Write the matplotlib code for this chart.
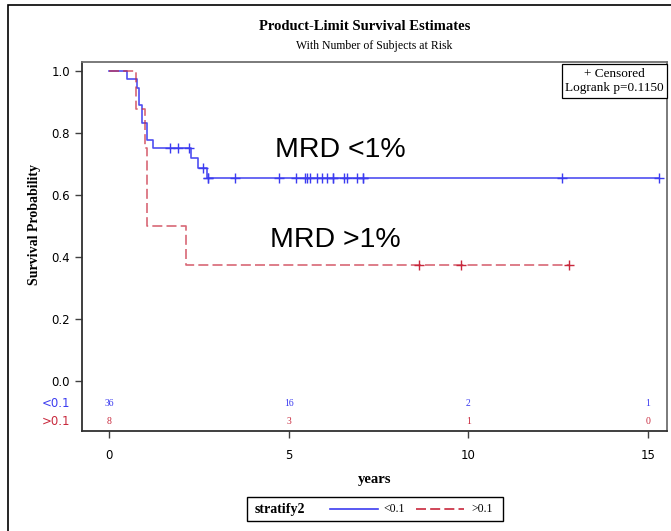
import numpy as np
import matplotlib
matplotlib.use("Agg")
import matplotlib.pyplot as plt
from matplotlib.lines import Line2D
from matplotlib.patches import Rectangle
import matplotlib.transforms as mtransforms

# Kaplan-Meier steps for each stratum (time in years, survival after the step)
lo_times = [0, 0.48, 0.76, 0.84, 0.90, 1.04, 1.23, 2.27, 2.48, 2.71]
lo_surv = [1.0, 0.972, 0.944, 0.889, 0.833, 0.778, 0.75, 0.719, 0.687, 0.655]
lo_censor = [1.69, 1.92, 2.23, 2.62, 2.76, 2.76, 3.50, 4.73, 5.19, 5.45, 5.52,
             5.59, 5.79, 5.93, 6.07, 6.22, 6.22, 6.54, 6.63, 6.89, 7.06, 7.06,
             12.60, 15.32]

hi_times = [0, 0.74, 0.99, 1.06, 2.14]
hi_surv = [1.0, 0.875, 0.75, 0.5, 0.375]
hi_censor = [8.64, 9.80, 12.80]

# numbers at risk
risk_years = [0, 5, 10, 15]
lo_risk = [36, 16, 2, 1]
hi_risk = [8, 3, 1, 0]

BLUE = "#3c3cf0"
RED = "#c8283c"
SERIF = "Liberation Serif"
SANS = "DejaVu Sans"

W, H = 671, 531


def fx(px):
    return px / W


def fy(py):
    return 1 - py / H


def surv_at(times, surv, t):
    return surv[np.searchsorted(times, t, side="right") - 1]


def step_curve(times, surv, censor):
    end = max(censor)
    xs = list(times) + [end]
    ys = list(surv) + [surv[-1]]
    cy = [surv_at(times, surv, c) for c in censor]
    return xs, ys, cy


fig = plt.figure(figsize=(W / 100, H / 100), dpi=100)
ax = fig.add_axes([fx(82), fy(430.7), fx(666.7) - fx(82), fy(62) - fy(430.7)])

# outer frame
fig.add_artist(Rectangle((fx(8), -0.1), 1.2, fy(5) + 0.1, transform=fig.transFigure,
                         fill=False, edgecolor="black", linewidth=1.2))

xs, ys, cy = step_curve(lo_times, lo_surv, lo_censor)
ax.step(xs, ys, where="post", color=BLUE, linewidth=1.2, alpha=0.9)
ax.plot(lo_censor, cy, linestyle="none", marker="+", markersize=7.5,
        markeredgewidth=1.0, color=BLUE)

xs, ys, cy = step_curve(hi_times, hi_surv, hi_censor)
ax.step(xs, ys, where="post", color=RED, linewidth=1.2, dashes=(6, 2.5), alpha=0.7)
ax.plot(hi_censor, cy, linestyle="none", marker="+", markersize=7.5,
        markeredgewidth=1.0, color=RED)

ax.set_xlim(-0.76, 15.53)
ax.set_ylim(-0.16, 1.028)
ax.set_xticks([0, 5, 10, 15])
ax.set_yticks([0.0, 0.2, 0.4, 0.6, 0.8, 1.0])
ax.set_yticklabels(["0.0", "0.2", "0.4", "0.6", "0.8", "1.0"])
ax.tick_params(direction="out", length=5, width=1, color="#404040",
               labelsize=8.5)
ax.tick_params(axis="x", pad=8)
for lab in ax.get_xticklabels() + ax.get_yticklabels():
    lab.set_family(SANS)
for side in ["left", "bottom"]:
    ax.spines[side].set_color("#303030")
    ax.spines[side].set_linewidth(1.3)
for side in ["top", "right"]:
    ax.spines[side].set_color("#707070")
    ax.spines[side].set_linewidth(1.3)

ax.set_ylabel("Survival Probability", family=SERIF, fontweight="bold", fontsize=10)
ax.yaxis.set_label_coords(-0.085 + 9 / 584.7, 0.558)
ax.set_xlabel("years", family=SERIF, fontweight="bold", fontsize=10.5)
ax.xaxis.set_label_coords(0.5, -(480 - 430.7) / 368.7)
ax.xaxis.label.set_va("center")

# at-risk table inside the plot area
blend = mtransforms.blended_transform_factory(ax.transAxes, ax.transData)
ax.text(-0.02, -0.072, "<0.1", color=BLUE, transform=blend, ha="right",
        va="center", fontsize=8.5, family=SANS)
ax.text(-0.02, -0.13, ">0.1", color=RED, transform=blend, ha="right",
        va="center", fontsize=8.5, family=SANS)
for yr, a, b in zip(risk_years, lo_risk, hi_risk):
    ax.text(yr, -0.072, str(a), color=BLUE, ha="center", va="center",
            fontsize=7, family=SERIF)
    ax.text(yr, -0.13, str(b), color=RED, ha="center", va="center",
            fontsize=7, family=SERIF)

ax.text(6.43, 0.744, "MRD <1%", fontsize=20.5, family="Liberation Sans",
        ha="center", va="center")
ax.text(6.31, 0.454, "MRD >1%", fontsize=20.5, family="Liberation Sans",
        ha="center", va="center")

ax.text(0.995, 0.985, "+ Censored\nLogrank p=0.1150", transform=ax.transAxes,
        ha="right", va="top", multialignment="center", fontsize=9.5,
        family=SERIF, linespacing=1.3,
        bbox=dict(boxstyle="square,pad=0.25", facecolor="white",
                  edgecolor="black", linewidth=0.9))

fig.text(fx(365), fy(27), "Product-Limit Survival Estimates", family=SERIF,
         fontweight="bold", fontsize=10.5, ha="center", va="center")
fig.text(fx(374), fy(46), "With Number of Subjects at Risk", family=SERIF,
         fontsize=8.5, ha="center", va="center")

# strata legend at the bottom
fig.add_artist(Rectangle((fx(247), fy(521)), fx(503) - fx(247), fy(497) - fy(521),
                         transform=fig.transFigure, fill=False,
                         edgecolor="black", linewidth=1.0))
fig.text(fx(255), fy(509), "stratify2", family=SERIF, fontweight="bold",
         fontsize=10, ha="left", va="center")
fig.add_artist(Line2D([fx(330), fx(378)], [fy(509), fy(509)], color=BLUE,
                      linewidth=1.2, transform=fig.transFigure))
fig.text(fx(383), fy(509), "<0.1", family=SERIF, fontsize=8.5, ha="left", va="center")
fig.add_artist(Line2D([fx(416), fx(464)], [fy(509), fy(509)], color=RED,
                      linewidth=1.2, dashes=(6, 2.5), transform=fig.transFigure))
fig.text(fx(471), fy(509), ">0.1", family=SERIF, fontsize=8.5, ha="left", va="center")

fig.savefig("out.png", dpi=100)
